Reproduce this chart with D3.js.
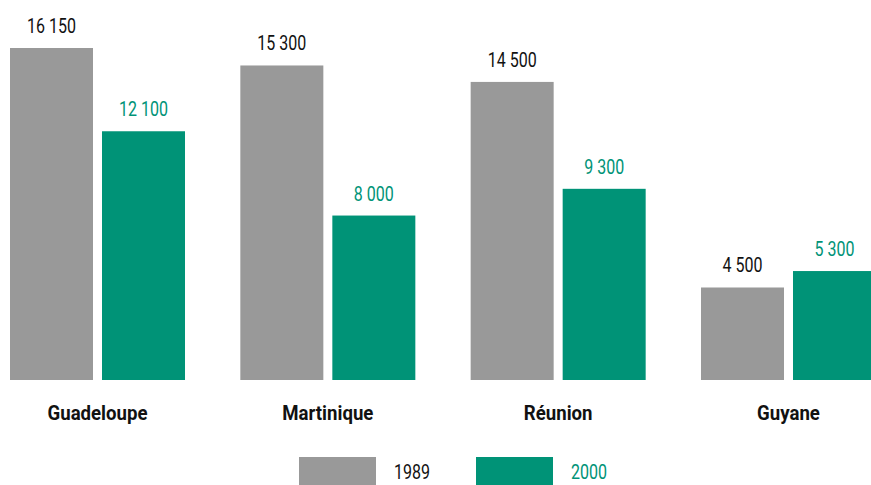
<!DOCTYPE html>
<html>
<head>
<meta charset="utf-8">
<script src="https://cdn.jsdelivr.net/npm/d3@7"></script>
<style>
  body { margin: 0; background: #fff; }
  svg text { font-family: Roboto, "DejaVu Sans", sans-serif; }
</style>
</head>
<body>
<svg id="chart" width="871" height="485"></svg>
<script>
var regions = ["Guadeloupe", "Martinique", "Réunion", "Guyane"];
var years = ["1989", "2000"];
var values1989 = [16150, 15300, 14500, 4500];
var values2000 = [12100, 8000, 9300, 5300];
var labels1989 = ["16 150", "15 300", "14 500", "4 500"];
var labels2000 = ["12 100", "8 000", "9 300", "5 300"];

var colors = { "1989": "#999999", "2000": "#009377" };
var textColors = { "1989": "#111111", "2000": "#009377" };

var svg = d3.select("#chart");

var x0 = d3.scaleBand().domain(regions).range([10, 876]).paddingInner(0.2402).paddingOuter(0);
var x1 = d3.scaleBand().domain(years).range([0, x0.bandwidth()]).paddingInner(9 / 92);
var y = d3.scaleLinear().domain([0, 16150]).range([380, 48]);

var rows = [];
regions.forEach(function(r, i) {
  rows.push({ region: r, year: "1989", value: values1989[i], label: labels1989[i] });
  rows.push({ region: r, year: "2000", value: values2000[i], label: labels2000[i] });
});

// condensed look: measure a sample string and squeeze horizontally
function squeeze(sample, size, weight, target) {
  var t = svg.append("text").attr("font-size", size).attr("font-weight", weight).text(sample);
  var w = t.node().getComputedTextLength();
  t.remove();
  return target / w;
}
var kVal = squeeze("16 150", 21, "normal", 49);
var kCat = squeeze("Guadeloupe", 20, "bold", 100);

svg.selectAll("rect.bar")
  .data(rows)
  .enter().append("rect")
  .attr("class", "bar")
  .attr("x", d => x0(d.region) + x1(d.year))
  .attr("y", d => y(d.value))
  .attr("width", x1.bandwidth())
  .attr("height", d => y(0) - y(d.value))
  .attr("fill", d => colors[d.year]);

svg.selectAll("text.val")
  .data(rows)
  .enter().append("text")
  .attr("class", "val")
  .attr("transform", d => "translate(" + (x0(d.region) + x1(d.year) + x1.bandwidth() / 2) + "," + (y(d.value) - 15) + ") scale(" + kVal + ",1)")
  .attr("text-anchor", "middle")
  .attr("font-size", 21)
  .attr("fill", d => textColors[d.year])
  .text(d => d.label);

svg.selectAll("text.cat")
  .data(regions)
  .enter().append("text")
  .attr("class", "cat")
  .attr("transform", d => "translate(" + (x0(d) + x0.bandwidth() / 2) + ",420) scale(" + kCat + ",1)")
  .attr("text-anchor", "middle")
  .attr("font-size", 20)
  .attr("font-weight", "bold")
  .attr("fill", "#111")
  .text(d => d);

// legend
var legend = svg.append("g");
var legX = d3.scaleOrdinal().domain(years).range([299, 476]);
years.forEach(function(yr) {
  legend.append("rect")
    .attr("x", legX(yr))
    .attr("y", 457)
    .attr("width", 77)
    .attr("height", 28)
    .attr("fill", colors[yr]);
  legend.append("text")
    .attr("transform", "translate(" + (legX(yr) + 95) + ",479) scale(" + kVal + ",1)")
    .attr("font-size", 21)
    .attr("fill", textColors[yr])
    .text(yr);
});
</script>
</body>
</html>
